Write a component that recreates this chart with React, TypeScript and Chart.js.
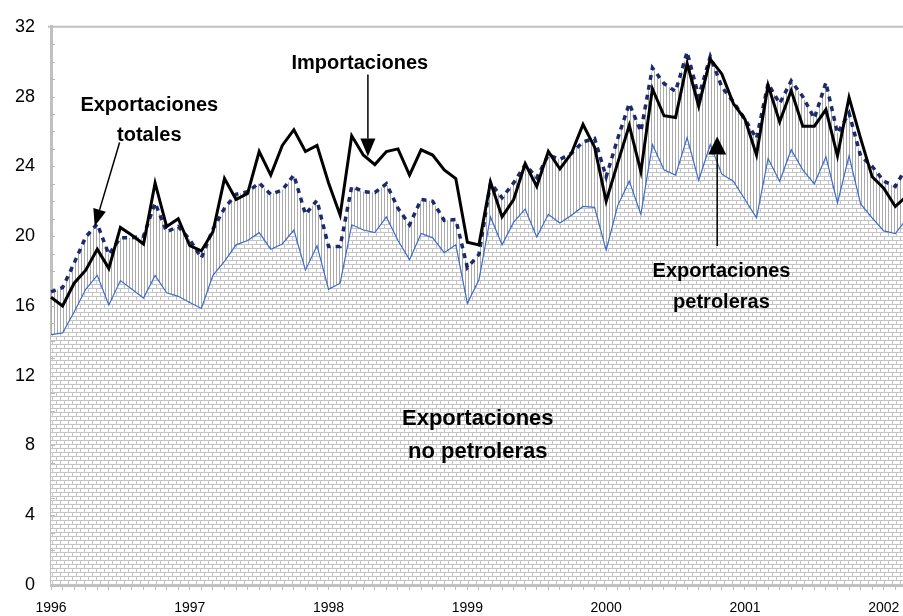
import React, { useEffect, useRef } from 'react';
import { Chart, registerables } from 'chart.js';

Chart.register(...registerables);

const FONT = "'Liberation Sans', Arial, Helvetica, sans-serif";

// Monthly data from January 1996 (index 0) onward
const startYear = 1996;
const axisMonths = 77; // months on the axis (chart is cropped at the right edge)
const yearLabels = ['1996', '1997', '1998', '1999', '2000', '2001', '2002'];
const yTickValues = [0, 4, 8, 12, 16, 20, 24, 28, 32];

const importaciones = [
  16.5, 16.0, 17.3, 18.05, 19.25, 18.15, 20.5, 20.05, 19.55, 23.05, 20.55, 21.0,
  19.45, 19.15, 20.25, 23.3, 22.1, 22.45, 24.85, 23.5, 25.2, 26.1, 24.85, 25.2,
  23.05, 21.2, 25.75, 24.65, 24.1, 24.85, 25.0, 23.5, 24.95, 24.65, 23.8, 23.3,
  19.65, 19.5, 23.1, 21.1, 22.1, 24.15, 22.85, 24.85, 23.85, 24.75, 26.4, 25.1,
  22.0, 24.2, 26.35, 23.7, 28.45, 26.9, 26.8, 29.9, 27.45, 30.15, 29.3, 27.6,
  26.7, 24.65, 28.65, 26.55, 28.35, 26.3, 26.3, 27.25, 24.6, 27.95, 25.6, 23.4,
  22.75, 21.7, 22.3,
];

const exportacionesTotales = [
  16.8, 17.05, 18.45, 19.95, 20.7, 18.95, 19.9, 19.9, 20.0, 21.9, 20.25, 20.55,
  19.8, 18.75, 20.4, 21.6, 22.4, 22.55, 23.05, 22.4, 22.65, 23.5, 21.25, 22.05,
  19.4, 19.4, 22.85, 22.55, 22.5, 23.0, 21.6, 20.65, 22.1, 22.0, 20.9, 20.95,
  18.2, 18.95, 23.05, 22.2, 23.05, 24.1, 23.35, 24.65, 24.4, 24.75, 25.4, 25.6,
  23.4, 25.6, 27.6, 26.0, 29.65, 28.75, 28.3, 30.55, 28.0, 30.3, 28.55, 27.7,
  26.7, 25.6, 28.75, 27.6, 28.9, 28.0, 26.75, 28.8, 25.9, 27.05, 24.6, 24.0,
  23.15, 22.85, 24.0,
];

const exportacionesNoPetroleras = [
  14.35, 14.45, 15.65, 16.95, 17.75, 16.05, 17.45, 16.95, 16.45, 17.75, 16.75, 16.55,
  16.2, 15.85, 17.75, 18.55, 19.5, 19.75, 20.2, 19.25, 19.55, 20.35, 18.05, 19.45,
  16.95, 17.3, 20.65, 20.35, 20.2, 21.1, 19.75, 18.65, 20.15, 19.9, 19.05, 19.5,
  16.15, 17.5, 21.1, 19.5, 20.8, 21.55, 19.95, 21.25, 20.75, 21.2, 21.7, 21.65,
  19.2, 21.75, 23.15, 21.25, 25.25, 23.8, 23.5, 25.65, 23.2, 25.25, 23.55, 23.15,
  22.1, 21.05, 24.45, 23.15, 24.95, 23.8, 23.0, 24.55, 21.9, 24.6, 21.85, 21.05,
  20.3, 20.15, 21.0,
];

// Text annotations: [month index, value] anchors
const noteTexts = [
  { lines: ['Exportaciones', 'totales'], month: 8.5, values: [27.5, 25.75], size: 20 },
  { lines: ['Importaciones'], month: 26.7, values: [29.9], size: 20 },
  { lines: ['Exportaciones', 'petroleras'], month: 57.97, values: [17.95, 16.2], size: 20 },
  { lines: ['Exportaciones', 'no petroleras'], month: 36.9, values: [9.5, 7.65], size: 22 },
];

const noteArrows = [
  { from: [5.93, 25.37], to: [3.78, 20.57], head: 17, width: 13 },
  { from: [27.4, 29.26], to: [27.4, 24.57], head: 18, width: 15 },
  { from: [57.6, 19.43], to: [57.6, 25.71], head: 18, width: 18 },
];

function monthLabels(): string[] {
  const out: string[] = [];
  for (let i = 0; i < axisMonths; i++) {
    const y = startYear + Math.floor(i / 12);
    const m = (i % 12) + 1;
    out.push(`${y}-${m < 10 ? '0' + m : m}`);
  }
  return out;
}

function brickPattern(ctx: CanvasRenderingContext2D) {
  const c = document.createElement('canvas');
  c.width = 8;
  c.height = 8;
  const g = c.getContext('2d')!;
  g.fillStyle = '#ffffff';
  g.fillRect(0, 0, 8, 8);
  g.fillStyle = '#c4c4c4';
  g.fillRect(0, 0, 8, 1);
  g.fillRect(0, 4, 8, 1);
  g.fillRect(0, 0, 1, 4);
  g.fillRect(4, 4, 1, 4);
  return ctx.createPattern(c, 'repeat')!;
}

function stripePattern(ctx: CanvasRenderingContext2D) {
  const c = document.createElement('canvas');
  c.width = 3;
  c.height = 4;
  const g = c.getContext('2d')!;
  g.fillStyle = '#ffffff';
  g.fillRect(0, 0, 3, 4);
  g.fillStyle = '#ababab';
  g.fillRect(0, 0, 1, 4);
  return ctx.createPattern(c, 'repeat')!;
}

const framePlugin = {
  id: 'frame',
  afterDatasetsDraw(chart: any) {
    const { ctx, chartArea, scales } = chart;
    const y = scales.y;
    ctx.save();
    ctx.strokeStyle = '#c0c0c0';
    ctx.lineWidth = 2;
    ctx.beginPath();
    ctx.moveTo(chartArea.left - 3, chartArea.top);
    ctx.lineTo(chartArea.right, chartArea.top);
    ctx.stroke();
    ctx.lineWidth = 1;
    ctx.strokeStyle = '#b8b8b8';
    for (let v = 1; v < 32; v++) {
      const py = Math.round(y.getPixelForValue(v)) + 0.5;
      ctx.beginPath();
      ctx.moveTo(chartArea.left, py);
      ctx.lineTo(chartArea.left + 4, py);
      ctx.stroke();
    }
    ctx.restore();
  },
};

const annotationPlugin = {
  id: 'notes',
  afterDatasetsDraw(chart: any) {
    const { ctx, scales } = chart;
    const x = scales.x;
    const y = scales.y;
    ctx.save();
    ctx.fillStyle = '#000';
    ctx.textAlign = 'center';
    ctx.textBaseline = 'middle';
    for (const n of noteTexts) {
      ctx.font = `bold ${n.size}px ${FONT}`;
      n.lines.forEach((t, i) => {
        ctx.fillText(t, x.getPixelForValue(n.month), y.getPixelForValue(n.values[i]));
      });
    }
    for (const a of noteArrows) {
      const x1 = x.getPixelForValue(a.from[0]);
      const y1 = y.getPixelForValue(a.from[1]);
      const x2 = x.getPixelForValue(a.to[0]);
      const y2 = y.getPixelForValue(a.to[1]);
      const dx = x2 - x1;
      const dy = y2 - y1;
      const len = Math.hypot(dx, dy);
      const ux = dx / len;
      const uy = dy / len;
      const bx = x2 - ux * a.head;
      const by = y2 - uy * a.head;
      ctx.strokeStyle = '#000';
      ctx.lineWidth = 1.5;
      ctx.beginPath();
      ctx.moveTo(x1, y1);
      ctx.lineTo(bx, by);
      ctx.stroke();
      ctx.beginPath();
      ctx.moveTo(x2, y2);
      ctx.lineTo(bx - uy * a.width / 2, by + ux * a.width / 2);
      ctx.lineTo(bx + uy * a.width / 2, by - ux * a.width / 2);
      ctx.closePath();
      ctx.fill();
    }
    ctx.restore();
  },
};

export default function App() {
  const ref = useRef<HTMLCanvasElement | null>(null);

  useEffect(() => {
    const canvas = ref.current!;
    const ctx = canvas.getContext('2d')!;
    const labels = monthLabels();
    const chart = new Chart(ctx, {
      type: 'line',
      data: {
        labels,
        datasets: [
          {
            label: 'Exportaciones no petroleras',
            data: exportacionesNoPetroleras,
            borderColor: '#3a6bc8',
            borderWidth: 1.2,
            backgroundColor: brickPattern(ctx),
            fill: 'origin',
            order: 2,
          },
          {
            label: 'Exportaciones totales',
            data: exportacionesTotales,
            borderColor: '#1b2a6b',
            borderWidth: 3.5,
            borderDash: [5, 5],
            backgroundColor: stripePattern(ctx),
            fill: '-1',
            order: 1,
          },
          {
            label: 'Importaciones',
            data: importaciones,
            borderColor: '#000000',
            borderWidth: 3,
            fill: false,
            order: 0,
          },
        ],
      },
      options: {
        animation: false,
        responsive: false,
        devicePixelRatio: 1,
        layout: { padding: { left: 0, right: 4, top: 25, bottom: 0 } },
        elements: {
          point: { radius: 0, hoverRadius: 0 },
          line: { tension: 0, borderJoinStyle: 'miter' },
        },
        plugins: {
          legend: { display: false },
          tooltip: { enabled: false },
          filler: { drawTime: 'beforeDatasetsDraw' },
        } as any,
        scales: {
          x: {
            type: 'category',
            grid: {
              display: true,
              drawOnChartArea: false,
              drawTicks: true,
              tickLength: 5,
              color: '#bdbdbd',
              lineWidth: 1,
            },
            border: { display: true, color: '#c0c0c0', width: 3 },
            ticks: {
              autoSkip: false,
              maxRotation: 0,
              minRotation: 0,
              padding: 10,
              color: '#000',
              font: { family: FONT, size: 14 },
              callback: (_v: any, i: number) => {
                const lab = labels[i];
                if (!lab || !lab.endsWith('-01')) return '';
                const yr = lab.slice(0, 4);
                return yearLabels.includes(yr) ? yr : '';
              },
            },
            afterFit: (s: any) => {
              s.height = 31;
            },
          },
          y: {
            min: 0,
            max: 32,
            afterBuildTicks: (s: any) => {
              s.ticks = yTickValues.map((v) => ({ value: v }));
            },
            ticks: {
              padding: 16,
              color: '#000',
              font: { family: FONT, size: 18 },
            },
            grid: { display: false, drawTicks: false },
            border: { display: true, color: '#c0c0c0', width: 3 },
            afterFit: (s: any) => {
              s.width = 51;
            },
          },
        },
      },
      plugins: [framePlugin, annotationPlugin],
    } as any);
    return () => chart.destroy();
  }, []);

  return (
    <div
      style={{
        position: 'absolute',
        left: 0,
        top: 0,
        width: 903,
        height: 616,
        overflow: 'hidden',
        background: '#ffffff',
      }}
    >
      <canvas ref={ref} width={940} height={616} style={{ display: 'block' }} />
    </div>
  );
}
